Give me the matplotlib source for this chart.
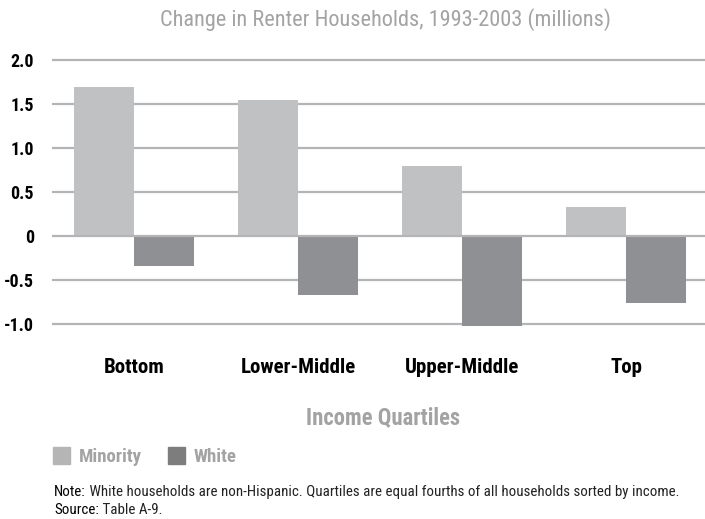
import numpy as np
import matplotlib
matplotlib.use("Agg")
import matplotlib.pyplot as plt
from matplotlib.patches import Rectangle

categories = ["Bottom", "Lower-Middle", "Upper-Middle", "Top"]
minority = [1.69, 1.55, 0.80, 0.33]
white = [-0.34, -0.67, -1.03, -0.76]
yticks = [2.0, 1.5, 1.0, 0.5, 0, -0.5, -1.0]
ytick_labels = ["2.0", "1.5", "1.0", "0.5", "0", "-0.5", "-1.0"]

C_MIN = "#c0c1c3"
C_WHITE = "#8f9094"
C_GRID = "#b4b4b6"
C_TEXT = "#a3a3a3"

plt.rcParams["font.family"] = ["Roboto Condensed", "DejaVu Sans"]

fig = plt.figure(figsize=(7.05, 5.19), dpi=100)
ax = fig.add_axes([52 / 705, 1 - 326 / 519, 1 - 52 / 705, (326 - 58) / 519])

x = np.arange(len(categories))
w = 0.366
ax.bar(x - w / 2, minority, width=w, color=C_MIN, zorder=2)
ax.bar(x + w / 2, white, width=w, color=C_WHITE, zorder=2)

ax.set_xlim(-0.5, 3.48)
ax.set_ylim(-1.0 - 2 / 88, 2.0 + 2 / 88)
ax.set_yticks(yticks)
ax.set_yticklabels(ytick_labels, fontsize=13, fontweight="bold", color="black")
for t in yticks:
    ax.axhline(t, color=C_GRID, lw=1.6, zorder=1 if t != 0 else 3)
for s in ax.spines.values():
    s.set_visible(False)
ax.tick_params(axis="y", length=0, pad=13)
ax.set_xticks(x)
ax.set_xticklabels(categories, fontsize=15, fontweight="bold")
ax.tick_params(axis="x", length=0, pad=23)

fig.text(385 / 705, 1 - 20 / 519, "Change in Renter Households, 1993-2003 (millions)",
         ha="center", va="center", fontsize=16, color=C_TEXT)
fig.text(383 / 705, 1 - 418 / 519, "Income Quartiles", ha="center", va="center",
         fontsize=16.3, fontweight="bold", color=C_TEXT)

# legend
for x0, col, lab in ((53, "#b5b5b5", "Minority"), (168, "#7d7d7d", "White")):
    fig.patches.append(Rectangle((x0 / 705, 1 - 464 / 519), 17 / 705, 17 / 519,
                                 transform=fig.transFigure, color=col))
    fig.text((x0 + 26) / 705, 1 - 457 / 519, lab, ha="left", va="center",
             fontsize=13.5, fontweight="bold", color=C_TEXT)

# note / source, lead word a touch darker
for y, lead, rest in ((492, "Note:", " White households are non-Hispanic. Quartiles are equal "
                                    "fourths of all households sorted by income."),
                      (510, "Source:", " Table A-9.")):
    t = fig.text(54 / 705, 1 - y / 519, lead, ha="left", va="center",
                 fontsize=10.8, color="black")
    ax.annotate(rest, xy=(1, 0.5), xycoords=t, ha="left", va="center",
                fontsize=10.8, color="#222222", annotation_clip=False)

fig.savefig("out.png", dpi=100)
